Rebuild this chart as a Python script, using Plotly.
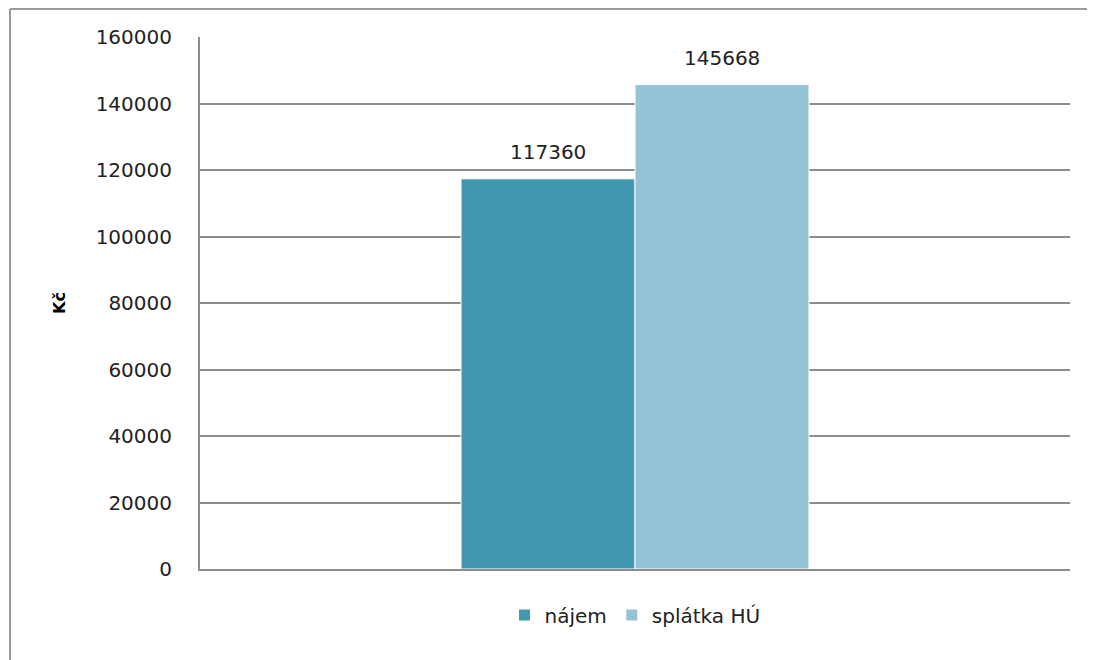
import plotly.graph_objects as go

categories = ["Kč"]
series_names = ["nájem", "splátka HÚ"]
najem = [117360]
splatka = [145668]
colors = ["#4398b0", "#93c3d4"]

fig = go.Figure()
for name, vals, col in zip(series_names, [najem, splatka], colors):
    fig.add_trace(go.Bar(x=categories, y=vals, name=name,
                         marker=dict(color=col, line=dict(color="white", width=1))))

# data labels above bars
for i, vals in enumerate([najem, splatka]):
    fig.add_annotation(x=categories[0], y=vals[0], text=str(vals[0]), showarrow=False,
                       xshift=(-1 if i == 0 else 1) * 87, yshift=27,
                       font=dict(size=20, color="#222"))

# chart frame lines (left / top)
fig.add_shape(type="line", xref="paper", yref="paper", x0=-0.2184, x1=-0.2184, y0=1.0526, y1=-0.2,
              line=dict(color="#9a9a9a", width=2))
fig.add_shape(type="line", xref="paper", yref="paper", x0=-0.2184, x1=1.05, y0=1.0526, y1=1.0526,
              line=dict(color="#9a9a9a", width=2))

fig.update_layout(
    width=1087, height=652,
    margin=dict(l=192, r=25, t=29, b=91),
    paper_bgcolor="white", plot_bgcolor="white",
    font=dict(family="DejaVu Sans", size=20, color="#222"),
    barmode="group", bargap=0.6, bargroupgap=0.0,
    showlegend=True,
    legend=dict(orientation="h", x=0.5, xanchor="center", y=-0.0865, yanchor="middle",
                font=dict(size=20), itemwidth=30, traceorder="normal"),
)
fig.update_yaxes(range=[0, 160000], dtick=20000, tickformat="d",
                 showgrid=True, gridcolor="#8c8c8c", gridwidth=2,
                 showline=True, linecolor="#8c8c8c", linewidth=2,
                 ticks="", ticklabelstandoff=22, zeroline=False,
                 title=dict(text="<b>Kč</b>", font=dict(size=16, color="black"), standoff=26))
fig.update_xaxes(type="category", showline=True, linecolor="#8c8c8c", linewidth=2,
                 showticklabels=False, ticks="")

fig.write_html("out.html")
